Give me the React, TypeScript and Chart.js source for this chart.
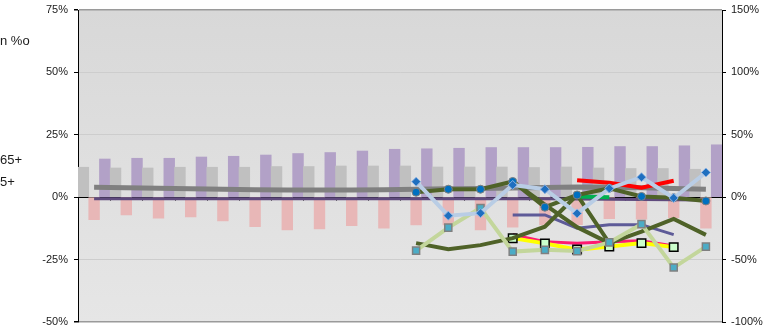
import React, { useEffect, useRef } from 'react';
import { Chart, registerables } from 'chart.js';

Chart.register(...registerables);

// 20 categories (no visible category labels in the reference)
const categories = [
  '1990', '1991', '1992', '1993', '1994', '1995', '1996', '1997', '1998', '1999',
  '2000', '2001', '2002', '2003', '2004', '2005', '2006', '2007', '2008', '2009',
];

// Left axis ticks (%), right axis ticks (%)
const leftTicks = [-50, -25, 0, 25, 50, 75];
const rightTicks = [-100, -50, 0, 50, 100, 150];

// Bars (left axis, %)
const grayBars = [12.0, 11.7, 11.7, 12.0, 12.0, 12.0, 12.3, 12.3, 12.5, 12.5, 12.5, 12.1, 12.1, 12.1, 11.9, 12.1, 11.7, 11.5, 11.5, 11.2];
const pinkBars = [-9.0, -7.1, -8.4, -7.9, -9.5, -11.8, -13.1, -12.7, -11.4, -12.4, -11.1, -11.1, -13.1, -12.0, -11.1, -11.0, -8.6, -8.8, -8.2, -12.4];
const purpleBars = [15.3, 15.6, 15.6, 16.1, 16.4, 16.9, 17.5, 17.9, 18.5, 19.2, 19.4, 19.6, 19.9, 19.9, 19.9, 20.0, 20.3, 20.3, 20.6, 21.0];

// Lines (right axis, %)
const grayLine = [8.0, 7.6, 7.2, 6.8, 6.4, 6.0, 5.8, 5.8, 5.8, 6.0, 6.4, 6.8, 7.0, 7.4, 7.8, 8.2, 8.0, 7.6, 7.0, 6.4];
const purpleLine = [-1.2, -1.2, -1.2, -1.2, -1.2, -1.2, -1.2, -1.2, -1.2, -1.2, -1.2, -1.2, -1.2, -1.2, -1.2, -1.4, -1.6, -1.8, -2.0, -2.2];
const blueDiamondLine = [null, null, null, null, null, null, null, null, null, null, 12.4, -14.8, -12.8, 9.8, 6.4, -13.0, 7.0, 16.0, -0.6, 19.8];
const oliveCircleLine = [null, null, null, null, null, null, null, null, null, null, 4.0, 6.4, 6.4, 12.6, -8.0, 1.8, 7.2, 0.6, -0.4, -3.0];
const oliveLowLine = [null, null, null, null, null, null, null, null, null, null, -36.8, -41.6, -38.4, -32.8, -23.6, 1.8, -36.8, -27.6, -17.4, -30.2];
const oliveDropLine = [null, null, null, null, null, null, null, null, null, null, null, null, null, 12.6, -6.0, -24.0, -36.8, null, null, null];
const slateLine = [null, null, null, null, null, null, null, null, null, null, null, null, null, -14.2, -14.2, -24.8, -22.0, -22.0, -30.0, null];
const redLine = [null, null, null, null, null, null, null, null, null, null, null, null, null, null, null, 13.6, 11.6, 7.6, 13.2, null];
const greenLine = [null, null, null, null, null, null, null, null, null, null, null, null, null, null, null, 0.6, 0.0, null, null, null];
const pinkLine = [null, null, null, null, null, null, null, null, null, null, null, null, null, -30.0, -35.6, -36.8, -35.6, -34.8, -39.0, null];
const yellowLine = [null, null, null, null, null, null, null, null, null, null, null, null, null, -32.8, -37.0, -42.0, -39.6, -36.8, -40.0, null];
const tealSquareLine = [null, null, null, null, null, null, null, null, null, null, -42.8, -24.4, -8.6, -43.6, -42.2, -43.2, -36.2, -21.6, -56.4, -39.6];

const FONT = "'Liberation Sans', Arial, sans-serif";

const bgPlugin = {
  id: 'bgGradient',
  beforeDraw(chart: any) {
    const { ctx, chartArea: a } = chart;
    if (!a) return;
    const g = ctx.createLinearGradient(0, a.top, 0, a.bottom);
    g.addColorStop(0, '#d8d8d8');
    g.addColorStop(1, '#e6e6e6');
    ctx.save();
    ctx.fillStyle = g;
    ctx.fillRect(a.left, a.top, a.right - a.left, a.bottom - a.top);
    ctx.restore();
  },
};

// Category axis drawn at the 0 value of the left scale: baseline + tick marks at category boundaries
const zeroAxisPlugin = {
  id: 'zeroAxis',
  beforeDatasetsDraw(chart: any) {
    const { ctx, chartArea: a, scales } = chart;
    const xs = scales.x;
    const y0 = Math.round(scales.y.getPixelForValue(0)) + 0.5;
    ctx.save();
    ctx.strokeStyle = '#000000';
    ctx.lineWidth = 1;
    ctx.beginPath();
    ctx.moveTo(a.left, y0);
    ctx.lineTo(a.right, y0);
    const n = categories.length;
    for (let i = 1; i < n; i++) {
      const bx = Math.round((xs.getPixelForValue(i - 1) + xs.getPixelForValue(i)) / 2) + 0.5;
      ctx.moveTo(bx, y0);
      ctx.lineTo(bx, y0 + 3);
    }
    ctx.stroke();
    ctx.restore();
  },
};

function lineDs(label: string, data: (number | null)[], color: string, width: number, order: number, extra: any = {}) {
  return {
    type: 'line' as const,
    label,
    data,
    borderColor: color,
    backgroundColor: color,
    borderWidth: width,
    pointRadius: 0,
    tension: 0,
    yAxisID: 'y1',
    order,
    spanGaps: false,
    ...extra,
  };
}

export default function App() {
  const ref = useRef<HTMLCanvasElement | null>(null);

  useEffect(() => {
    document.body.style.margin = '0';
    if (!ref.current) return;
    const chart = new Chart(ref.current, {
      type: 'bar',
      data: {
        labels: categories,
        datasets: [
          { type: 'bar', label: 'gray', data: grayBars, backgroundColor: '#c0c0c0', yAxisID: 'y', order: 100, categoryPercentage: 1, barPercentage: 1 },
          { type: 'bar', label: 'pink', data: pinkBars, backgroundColor: '#e8b7b7', yAxisID: 'y', order: 100, categoryPercentage: 1, barPercentage: 1 },
          { type: 'bar', label: 'purple', data: purpleBars, backgroundColor: '#b2a1c7', yAxisID: 'y', order: 100, categoryPercentage: 1, barPercentage: 1 },
          lineDs('grayLine', grayLine, '#808080', 5, 60),
          lineDs('purpleLine', purpleLine, '#5f4a7d', 3, 59),
          lineDs('slate', slateLine, '#5e5b98', 3, 50),
          lineDs('pinkLine', pinkLine, '#ff1a70', 3, 49),
          lineDs('yellow', yellowLine, '#ffff00', 4, 48, {
            pointRadius: 6, pointStyle: 'rect', pointBackgroundColor: '#ccffcc', pointBorderColor: '#000000', pointBorderWidth: 1.5,
          }),
          lineDs('oliveLow', oliveLowLine, '#4f6228', 4, 47),
          lineDs('oliveDrop', oliveDropLine, '#4f6228', 4, 46),
          lineDs('teal', tealSquareLine, '#c3d69b', 4, 45, {
            pointRadius: 5, pointStyle: 'rect', pointBackgroundColor: '#4bacc6', pointBorderColor: '#808080', pointBorderWidth: 1.5,
          }),
          lineDs('green', greenLine, '#00b050', 4, 44),
          lineDs('red', redLine, '#ff0000', 4, 43),
          lineDs('oliveCircle', oliveCircleLine, '#4f6228', 4, 42, {
            pointRadius: 4, pointStyle: 'circle', pointBackgroundColor: '#0070c0', pointBorderColor: '#7f7f7f', pointBorderWidth: 1,
          }),
          lineDs('blueDiamond', blueDiamondLine, '#b9cde5', 4, 41, {
            pointRadius: 4.5, pointStyle: 'rectRot', pointBackgroundColor: '#1f6fbf', pointBorderColor: '#8db3e2', pointBorderWidth: 1,
          }),
        ] as any,
      },
      options: {
        animation: false,
        responsive: false,
        maintainAspectRatio: false,
        events: [],
        layout: { autoPadding: false, padding: { top: 10, bottom: 8, left: 0, right: 0 } },
        plugins: { legend: { display: false }, tooltip: { enabled: false } },
        scales: {
          x: {
            type: 'category',
            display: false,
            offset: true,
            grid: { offset: true },
          },
          y: {
            type: 'linear',
            position: 'left',
            min: -50,
            max: 75,
            afterBuildTicks: (s: any) => { s.ticks = leftTicks.map((v) => ({ value: v })); },
            afterFit: (s: any) => { s.width = 78; s.paddingTop = 0; s.paddingBottom = 0; },
            ticks: { padding: 6, color: '#1a1a1a', font: { family: FONT, size: 11 }, callback: (v: any) => v + '%' },
            grid: {
              drawTicks: true,
              tickLength: 4,
              tickColor: '#000000',
              color: (c: any) => {
                const v = c.tick ? c.tick.value : 0;
                if (v === 0) return 'rgba(0,0,0,0)';
                if (v === 75 || v === -50) return '#9a9a9a';
                return '#cdcdcd';
              },
              lineWidth: (c: any) => {
                const v = c.tick ? c.tick.value : 0;
                return v === 75 || v === -50 ? 1.5 : 1;
              },
            },
            border: { display: true, color: '#000000', width: 1 },
          },
          y1: {
            type: 'linear',
            position: 'right',
            min: -100,
            max: 150,
            afterBuildTicks: (s: any) => { s.ticks = rightTicks.map((v) => ({ value: v })); },
            afterFit: (s: any) => { s.width = 59; s.paddingTop = 0; s.paddingBottom = 0; },
            ticks: { padding: 5, color: '#1a1a1a', font: { family: FONT, size: 11 }, callback: (v: any) => v + '%' },
            grid: { drawOnChartArea: false, drawTicks: true, tickLength: 4, tickColor: '#000000' },
            border: { display: true, color: '#000000', width: 1 },
          },
        },
      },
      plugins: [bgPlugin, zeroAxisPlugin],
    } as any);
    return () => chart.destroy();
  }, []);

  const textStyle: React.CSSProperties = {
    position: 'absolute',
    left: 0,
    fontFamily: FONT,
    fontSize: 13,
    color: '#1a1a1a',
    lineHeight: '16px',
    whiteSpace: 'nowrap',
  };

  return (
    <div style={{ position: 'relative', width: 781, height: 330 }}>
      <canvas ref={ref} width={781} height={330} style={{ display: 'block', width: 781, height: 330 }} />
      <span style={{ ...textStyle, top: 33 }}>n %o</span>
      <span style={{ ...textStyle, top: 152 }}>65+</span>
      <span style={{ ...textStyle, top: 174 }}>5+</span>
    </div>
  );
}
